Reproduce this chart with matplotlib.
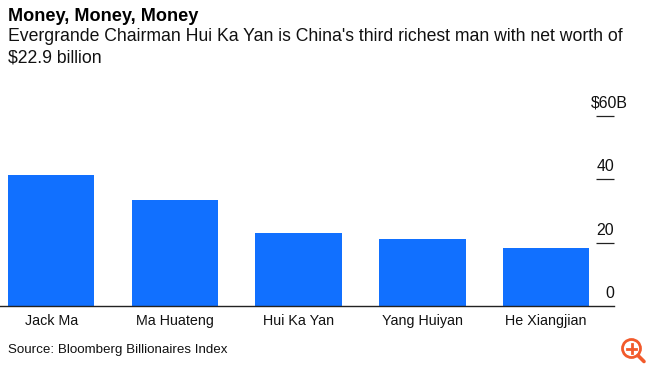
import matplotlib
matplotlib.use("Agg")
import matplotlib.pyplot as plt
from matplotlib.patches import Circle

names = ["Jack Ma", "Ma Huateng", "Hui Ka Yan", "Yang Huiyan", "He Xiangjian"]
worth = [41.3, 33.4, 22.9, 21.2, 18.4]
ticks = [0, 20, 40, 60]
tick_labels = ["0", "20", "40", "$60B"]

W, H = 650, 367
plt.rcParams["font.family"] = ["Liberation Sans", "DejaVu Sans"]
fig = plt.figure(figsize=(W / 100, H / 100), dpi=100)
ax = fig.add_axes([0, 1 - 306 / H, 614.3 / W, 190.3 / H])
step = 123.7
c0 = 51.2
ax.set_xlim(-c0 / step, (614.3 - c0) / step)
ax.set_ylim(0, 60)
ax.bar(range(len(names)), worth, width=86.5 / step, color="#1170ff", zorder=2)
for s in ["top", "left", "right"]:
    ax.spines[s].set_visible(False)
ax.spines["bottom"].set_color("#222222")
ax.spines["bottom"].set_linewidth(1.0)
ax.patch.set_alpha(0)
ax.set_xticks(range(len(names)))
ax.set_xticklabels(names, fontsize=10.3, color="#111111")
ax.tick_params(axis="x", length=0, pad=6)
ax.yaxis.tick_right()
ax.set_yticks(ticks[1:])
ax.set_yticklabels([])
ax.tick_params(axis="y", direction="in", length=13, width=0.9, color="#222222", pad=0)
ax.yaxis.get_major_ticks()[-1].tick2line.set_color("#777777")
ax.yaxis.get_major_ticks()[-1].tick2line.set_clip_on(False)
for t, lab in zip(ticks, tick_labels):
    ax.annotate(lab, xy=(1, t), xycoords=("axes fraction", "data"),
                xytext=(0 if t != 60 else 10, 5.8), textcoords="offset points",
                ha="right", va="baseline", fontsize=11.4, color="#111111")

fig.text(8 / W, 1 - 21 / H, "Money, Money, Money", fontsize=13.1, fontweight="bold",
         color="#000000", va="baseline", ha="left")
fig.text(8 / W, 1 - 41 / H, "Evergrande Chairman Hui Ka Yan is China's third richest man with net worth of",
         fontsize=12.7, color="#111111", va="baseline", ha="left")
fig.text(8 / W, 1 - 63 / H, "$22.9 billion", fontsize=12.7, color="#111111", va="baseline", ha="left")
fig.text(8 / W, 1 - 353 / H, "Source: Bloomberg Billionaires Index", fontsize=9.6,
         color="#111111", va="baseline", ha="left")

ic = fig.add_axes([0, 0, 1, 1])
ic.set_xlim(0, W); ic.set_ylim(H, 0); ic.axis("off")
ic.add_patch(Circle((631.5, 348.5), 9, fill=False, ec="#f25a2b", lw=2))
ic.plot([638, 644], [355.5, 361.5], color="#f25a2b", lw=2.6, solid_capstyle="round")
ic.plot([627, 636], [348.5, 348.5], color="#f25a2b", lw=2)
ic.plot([631.5, 631.5], [344, 353], color="#f25a2b", lw=2)
fig.savefig("out.png", dpi=100, facecolor="white")
